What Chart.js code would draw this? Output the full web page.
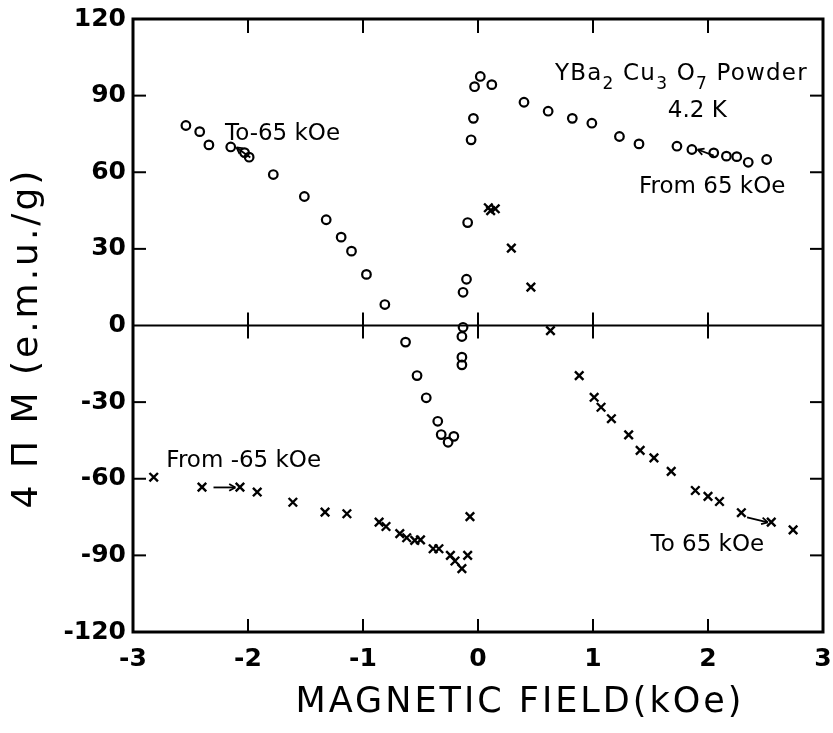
<!DOCTYPE html>
<html>
<head>
<meta charset="utf-8">
<script src="https://cdn.jsdelivr.net/npm/chart.js@4.4.0/dist/chart.umd.min.js"></script>
<style>
  body { margin: 0; background: #fff; }
</style>
</head>
<body>
<canvas id="chart" width="833" height="733"></canvas>
<script>
const tickField = [-3, -2, -1, 0, 1, 2, 3];
const tickMoment = [-120, -90, -60, -30, 0, 30, 60, 90, 120];

// open circles
const circleField = [-2.54, -2.42, -2.34, -2.15, -2.03, -1.99, -1.78, -1.51, -1.32, -1.19, -1.10, -0.97, -0.81,
  -0.63, -0.53, -0.45, -0.35, -0.32, -0.26, -0.21, -0.14, -0.14, -0.14, -0.13, -0.13, -0.10, -0.09, -0.06,
  -0.04, -0.03, 0.02, 0.12, 0.40, 0.61, 0.82, 0.99, 1.23, 1.40, 1.73, 1.86, 2.05, 2.16, 2.25, 2.35, 2.51];
const circleMoment = [78.3, 75.9, 70.7, 69.9, 67.7, 65.9, 59.1, 50.5, 41.4, 34.6, 29.1, 20.0, 8.2,
  -6.5, -19.6, -28.3, -37.5, -42.7, -45.7, -43.4, -15.4, -12.4, -4.3, -0.7, 13.0, 18.1, 40.3, 72.7,
  81.1, 93.5, 97.5, 94.3, 87.4, 83.9, 81.1, 79.2, 74.0, 71.1, 70.2, 68.9, 67.6, 66.3, 66.1, 63.9, 65.0];

// crosses
const crossField = [-2.82, -2.40, -2.07, -1.92, -1.61, -1.33, -1.14, -0.86, -0.80, -0.68, -0.62, -0.55, -0.50,
  -0.39, -0.34, -0.24, -0.20, -0.14, -0.09, -0.07, 0.09, 0.11, 0.15, 0.29, 0.46, 0.63, 0.88, 1.01, 1.07,
  1.16, 1.31, 1.41, 1.53, 1.68, 1.89, 2.00, 2.10, 2.29, 2.55, 2.74];
const crossMoment = [-59.4, -63.3, -63.3, -65.2, -69.2, -73.1, -73.7, -77.0, -78.7, -81.5, -83.1, -84.1, -83.9,
  -87.4, -87.4, -90.0, -92.2, -95.2, -90.0, -74.8, 46.1, 45.0, 45.7, 30.3, 15.0, -2.0, -19.6, -28.1, -32.0,
  -36.5, -42.8, -48.9, -51.8, -57.1, -64.6, -66.9, -68.9, -73.3, -77.0, -80.0];

// labels in the plot, placed in data units (left edge, middle)
const notes = [
  { text: "To-65 kOe", x: -2.20, y: 74.8 },
  { text: "4.2 K", x: 1.65, y: 83.8 },
  { text: "From 65 kOe", x: 1.40, y: 54.4 },
  { text: "From -65 kOe", x: -2.71, y: -53.2 },
  { text: "To 65 kOe", x: 1.50, y: -86.1 }
];
const formula = [["YBa", 0], ["2", 1], [" Cu", 0], ["3", 1], [" O", 0], ["7", 1], [" Powder", 0]];
const formulaAt = { x: 0.67, y: 96.3 };
// little arrows: from -> to, data units
const arrows = [
  [-1.98, 65.8, -2.10, 69.7],
  [-2.30, -63.4, -2.11, -63.4],
  [2.05, 66.5, 1.91, 68.9],
  [2.34, -75.1, 2.52, -77.1]
];

function seg(ctx, x1, y1, x2, y2) {
  ctx.beginPath();
  ctx.moveTo(x1, y1);
  ctx.lineTo(x2, y2);
  ctx.stroke();
}

const framePlugin = {
  id: 'frame',
  afterDraw(chart) {
    const { ctx, chartArea: a, scales: { x, y } } = chart;
    ctx.save();
    ctx.strokeStyle = '#000';
    ctx.fillStyle = '#000';
    ctx.lineWidth = 3;
    ctx.strokeRect(a.left, a.top, a.right - a.left, a.bottom - a.top);

    const y0 = y.getPixelForValue(0);
    ctx.lineWidth = 2;
    seg(ctx, a.left, y0, a.right, y0);
    tickField.slice(1, -1).forEach(v => {
      const px = x.getPixelForValue(v);
      seg(ctx, px, a.bottom, px, a.bottom - 13);
      seg(ctx, px, a.top, px, a.top + 14);
      seg(ctx, px, y0 - 13, px, y0 + 13);
    });
    tickMoment.slice(1, -1).forEach(v => {
      if (v === 0) return;
      const py = y.getPixelForValue(v);
      seg(ctx, a.left, py, a.left + 13, py);
      seg(ctx, a.right, py, a.right - 13, py);
    });

    // arrows
    ctx.lineWidth = 1.8;
    arrows.forEach(([x1, y1, x2, y2]) => {
      const p1 = [x.getPixelForValue(x1), y.getPixelForValue(y1)];
      const p2 = [x.getPixelForValue(x2), y.getPixelForValue(y2)];
      seg(ctx, p1[0], p1[1], p2[0], p2[1]);
      const ang = Math.atan2(p2[1] - p1[1], p2[0] - p1[0]);
      [0.5, -0.5].forEach(d => {
        seg(ctx, p2[0], p2[1], p2[0] - 7 * Math.cos(ang + d), p2[1] - 7 * Math.sin(ang + d));
      });
    });

    // notes
    ctx.font = '23px "DejaVu Sans"';
    ctx.textBaseline = 'middle';
    ctx.textAlign = 'left';
    notes.forEach(n => ctx.fillText(n.text, x.getPixelForValue(n.x), y.getPixelForValue(n.y)));

    ctx.textBaseline = 'alphabetic';
    ctx.letterSpacing = '1.2px';
    let fx = x.getPixelForValue(formulaAt.x);
    const fy = y.getPixelForValue(formulaAt.y);
    formula.forEach(([t, sub]) => {
      ctx.font = sub ? '17px "DejaVu Sans"' : '23px "DejaVu Sans"';
      ctx.fillText(t, fx, sub ? fy + 9 : fy);
      fx += ctx.measureText(t).width;
    });

    // axis titles
    ctx.letterSpacing = '3px';
    ctx.textAlign = 'center';
    ctx.textBaseline = 'middle';
    ctx.font = '35px "DejaVu Sans"';
    ctx.fillText('MAGNETIC FIELD(kOe)', 520, 703);
    ctx.translate(28, 338);
    ctx.rotate(-Math.PI / 2);
    ctx.font = '36px "DejaVu Sans"';
    ctx.fillText('4 Π M (e.m.u./g)', 0, 0);
    ctx.restore();
  }
};

const tickFont = { family: 'DejaVu Sans', weight: 'bold', size: 25 };

new Chart(document.getElementById('chart'), {
  type: 'scatter',
  data: {
    datasets: [
      {
        label: 'o',
        data: circleField.map((h, i) => ({ x: h, y: circleMoment[i] })),
        pointStyle: 'circle',
        pointRadius: 4.3,
        borderColor: '#000',
        backgroundColor: 'rgba(255,255,255,0)',
        borderWidth: 2.2
      },
      {
        label: 'x',
        data: crossField.map((h, i) => ({ x: h, y: crossMoment[i] })),
        pointStyle: 'crossRot',
        pointRadius: 6,
        borderColor: '#000',
        borderWidth: 2.4
      }
    ]
  },
  options: {
    responsive: false,
    animation: false,
    layout: { padding: 0 },
    plugins: { legend: { display: false }, tooltip: { enabled: false } },
    scales: {
      x: {
        type: 'linear',
        min: -3,
        max: 3,
        afterBuildTicks: s => { s.ticks = tickField.map(v => ({ value: v })); },
        afterFit: s => { s.height = 101; s.paddingLeft = 0; s.paddingRight = 10; },
        grid: { display: false, drawTicks: false },
        border: { display: false },
        ticks: { color: '#000', font: tickFont, padding: 12, maxRotation: 0 }
      },
      y: {
        min: -120,
        max: 120,
        afterBuildTicks: s => { s.ticks = tickMoment.map(v => ({ value: v })); },
        afterFit: s => { s.width = 133; s.paddingTop = 19; s.paddingBottom = 0; },
        grid: { display: false, drawTicks: false },
        border: { display: false },
        ticks: { color: '#000', font: tickFont, padding: 7 }
      }
    }
  },
  plugins: [framePlugin]
});
</script>
</body>
</html>
